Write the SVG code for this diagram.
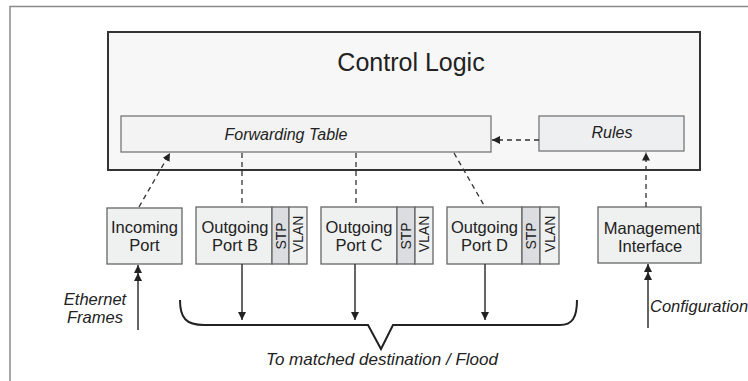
<svg xmlns="http://www.w3.org/2000/svg" width="748" height="381" viewBox="0 0 748 381">
<defs>
<marker id="ah" viewBox="0 0 10 10" refX="10" refY="5" markerWidth="8" markerHeight="8" markerUnits="userSpaceOnUse" orient="auto">
<path d="M0,0 L10,5 L0,10 z" fill="#222"/>
</marker>
<marker id="ah2" viewBox="0 0 20 10" refX="20" refY="5" markerWidth="16" markerHeight="8" markerUnits="userSpaceOnUse" orient="auto">
<path d="M0,0 L10,5 L0,10 z M10,0 L20,5 L10,10 z" fill="#222"/>
</marker>
<style>
text{font-family:"Liberation Sans",Arial,sans-serif;fill:#222}
.it{font-style:italic}
.box{fill:#eff0f0;stroke:#666;stroke-width:1.3}
.stp{fill:#dcdde0;stroke:#666;stroke-width:1.3}
.lbl{font-size:16.5px;text-anchor:middle}
.rot{font-size:14px;text-anchor:middle}
.dash{fill:none;stroke:#333;stroke-width:1.3;stroke-dasharray:5 4}
.solid{fill:none;stroke:#333;stroke-width:1.5}
</style>
</defs>
<rect width="748" height="381" fill="#fff"/>
<path d="M10,381 L10,6.5 L748,6.5" fill="none" stroke="#8a8a8a" stroke-width="1.5"/>

<g id="control-logic">
<rect x="108" y="32" width="592" height="138" fill="#f7f7f7" stroke="#333" stroke-width="2"/>
<text x="411" y="71" font-size="25" text-anchor="middle">Control Logic</text>
</g>
<g id="forwarding-table">
<rect x="121" y="116" width="370" height="36" fill="#f2f3f2" stroke="#777" stroke-width="1.3"/>
<text class="it" x="286" y="140" font-size="16" text-anchor="middle">Forwarding Table</text>
</g>
<g id="rules">
<rect x="539" y="116" width="145" height="35" fill="#eeeff0" stroke="#777" stroke-width="1.3"/>
<text class="it" x="612" y="138" font-size="16" text-anchor="middle">Rules</text>
</g>

<g id="incoming-port">
<rect class="box" x="107" y="208" width="75" height="56"/>
<text class="lbl" x="144.5" y="233">Incoming</text>
<text class="lbl" x="144.5" y="251">Port</text>
</g>
<g id="port-b">
<rect class="box" x="196" y="207" width="76" height="57"/>
<rect class="stp" x="272" y="207" width="17" height="57"/>
<rect class="box" x="289" y="207" width="18" height="57"/>
<text class="lbl" x="235" y="233">Outgoing</text>
<text class="lbl" x="235" y="251">Port B</text>
<text class="rot" transform="translate(285.5,236) rotate(-90)">STP</text>
<text class="rot" transform="translate(303,234) rotate(-90)">VLAN</text>
</g>
<g id="port-c">
<rect class="box" x="321" y="207" width="76" height="57"/>
<rect class="stp" x="397" y="207" width="18" height="57"/>
<rect class="box" x="415" y="207" width="18" height="57"/>
<text class="lbl" x="359" y="233">Outgoing</text>
<text class="lbl" x="359" y="251">Port C</text>
<text class="rot" transform="translate(411,236) rotate(-90)">STP</text>
<text class="rot" transform="translate(429,234) rotate(-90)">VLAN</text>
</g>
<g id="port-d">
<rect class="box" x="447" y="207" width="75" height="57"/>
<rect class="stp" x="522" y="207" width="18" height="57"/>
<rect class="box" x="540" y="207" width="19" height="57"/>
<text class="lbl" x="484.5" y="233">Outgoing</text>
<text class="lbl" x="484.5" y="251">Port D</text>
<text class="rot" transform="translate(536,236) rotate(-90)">STP</text>
<text class="rot" transform="translate(554.5,234) rotate(-90)">VLAN</text>
</g>
<g id="management-interface">
<rect class="box" x="598" y="207" width="103" height="56"/>
<text class="lbl" x="652" y="234">Management</text>
<text class="lbl" x="650" y="252">Interface</text>
</g>

<g id="connectors">
<line class="dash" x1="539" y1="140" x2="492" y2="140" marker-end="url(#ah)"/>
<line class="dash" x1="646" y1="207" x2="646" y2="152.5" marker-end="url(#ah)"/>
<line class="dash" x1="139" y1="207" x2="170" y2="153" marker-end="url(#ah)"/>
<line class="dash" x1="242" y1="153" x2="242" y2="207"/>
<line class="dash" x1="356" y1="153" x2="356" y2="207"/>
<line class="dash" x1="454" y1="153" x2="485" y2="207"/>
<line class="solid" x1="242" y1="264" x2="242" y2="320" marker-end="url(#ah)"/>
<line class="solid" x1="355" y1="264" x2="355" y2="320" marker-end="url(#ah)"/>
<line class="solid" x1="485" y1="264" x2="485" y2="320" marker-end="url(#ah)"/>
<line class="solid" x1="138" y1="330" x2="138" y2="265" marker-end="url(#ah2)"/>
<line class="solid" x1="648" y1="328" x2="648" y2="264" marker-end="url(#ah2)"/>
<path d="M180,300 C180,318 186,325 204,325 L368,325 L381,349 L393,325 L560,325 C572,325 577,318 577,300" fill="none" stroke="#222" stroke-width="2"/>
</g>

<g id="labels">
<text class="it" x="95" y="305" font-size="16.5" text-anchor="middle">Ethernet</text>
<text class="it" x="95" y="323" font-size="16.5" text-anchor="middle">Frames</text>
<text class="it" x="650" y="312" font-size="16.5">Configuration</text>
<text class="it" x="382" y="365" font-size="17" text-anchor="middle">To matched destination / Flood</text>
</g>
</svg>
